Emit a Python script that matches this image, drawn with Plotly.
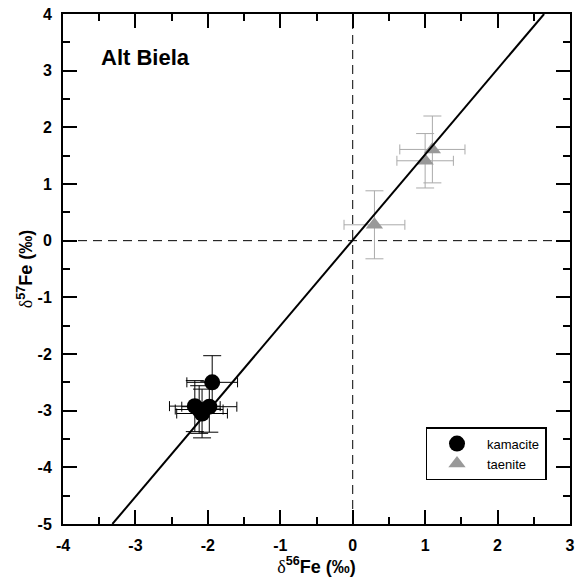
import plotly.graph_objects as go
import numpy as np

# ---- data ----
kam_x = [-1.94, -2.18, -1.98, -2.08, -2.12]
kam_y = [-2.50, -2.92, -2.93, -3.05, -2.98]
kam_xerr = [0.35, 0.35, 0.38, 0.35, 0.33]
kam_yerr = [0.47, 0.45, 0.45, 0.43, 0.42]

tae_x = [0.30, 1.00, 1.10]
tae_y = [0.28, 1.41, 1.61]
tae_xerr = [0.42, 0.39, 0.45]
tae_yerr = [0.60, 0.48, 0.59]

fit_slope = 1.51
fit_intercept = 0.01

x_range = [-4, 3]
y_range = [-5, 4]
x_ticks = [-4, -3, -2, -1, 0, 1, 2, 3]
y_ticks = [-5, -4, -3, -2, -1, 0, 1, 2, 3, 4]

FONT = "Liberation Sans, Arial, sans-serif"

# fit line clipped to the axes box
lx0 = max(x_range[0], (y_range[0] - fit_intercept) / fit_slope)
lx1 = min(x_range[1], (y_range[1] - fit_intercept) / fit_slope)
line_x = [lx0, lx1]
line_y = [fit_slope * v + fit_intercept for v in line_x]

fig = go.Figure()

fig.add_trace(go.Scatter(
    x=kam_x, y=kam_y, mode="markers", showlegend=False,
    marker=dict(symbol="circle", size=16, color="black"),
    error_x=dict(type="data", array=kam_xerr, color="black", thickness=1, width=5),
    error_y=dict(type="data", array=kam_yerr, color="black", thickness=1, width=9),
))
fig.add_trace(go.Scatter(
    x=tae_x, y=tae_y, mode="markers", showlegend=False,
    marker=dict(symbol="triangle-up", size=15, color="#999999"),
    error_x=dict(type="data", array=tae_xerr, color="#aaaaaa", thickness=1, width=5),
    error_y=dict(type="data", array=tae_yerr, color="#aaaaaa", thickness=1, width=9),
))
fig.add_trace(go.Scatter(
    x=line_x, y=line_y, mode="lines", showlegend=False,
    line=dict(color="black", width=2),
))
# legend entries
fig.add_trace(go.Scatter(
    x=[None], y=[None], mode="markers", name="kamacite",
    marker=dict(symbol="circle", size=16, color="black"),
))
fig.add_trace(go.Scatter(
    x=[None], y=[None], mode="markers", name="taenite",
    marker=dict(symbol="triangle-up", size=15, color="#999999"),
))

# zero dashed lines
fig.add_shape(type="line", x0=0, x1=0, y0=0, y1=1, xref="x", yref="paper",
              line=dict(color="black", width=1, dash="9px,6px"), layer="below")
fig.add_shape(type="line", x0=0, x1=1, y0=0, y1=0, xref="paper", yref="y",
              line=dict(color="black", width=1, dash="9px,6px"), layer="below")

fig.add_annotation(x=-3.5, y=3.23, text="<b>Alt Biela</b>", showarrow=False,
                   xanchor="left", yanchor="middle",
                   font=dict(family=FONT, size=22, color="black"))

axis_common = dict(
    showline=True, linecolor="black", linewidth=2, mirror="ticks",
    ticks="inside", ticklen=14, tickwidth=2, tickcolor="black",
    showgrid=False, zeroline=False,
    tickfont=dict(family=FONT, size=16, color="black", weight="bold"),
    minor=dict(ticks="inside", ticklen=7, tickwidth=2, tickcolor="black", dtick=0.5),
)

delta = '<span style="font-family:Liberation Serif;font-weight:normal">δ</span>'
fig.update_xaxes(range=x_range, tickvals=x_ticks, ticktext=[str(v) for v in x_ticks],
                 title=dict(text=delta + "<b><sup>56</sup>Fe (‰)</b>",
                            font=dict(family=FONT, size=18, color="black"), standoff=2),
                 ticklabelstandoff=6, **axis_common)
fig.update_yaxes(range=y_range, tickvals=y_ticks, ticktext=[str(v) for v in y_ticks],
                 title=dict(text=delta + "<b><sup>57</sup>Fe (‰)</b>",
                            font=dict(family=FONT, size=18, color="black"), standoff=0),
                 ticklabelstandoff=6, **axis_common)

fig.update_layout(
    width=578, height=588,
    margin=dict(l=63, r=3, t=14, b=64),
    paper_bgcolor="white", plot_bgcolor="white",
    font=dict(family=FONT, color="black"),
    showlegend=True,
    legend=dict(x=0.715, y=0.19, xanchor="left", yanchor="top",
                bgcolor="white", bordercolor="black", borderwidth=1.5,
                font=dict(family=FONT, size=13, color="black"),
                itemwidth=50, tracegroupgap=4),
)

fig.write_html("out.html")
